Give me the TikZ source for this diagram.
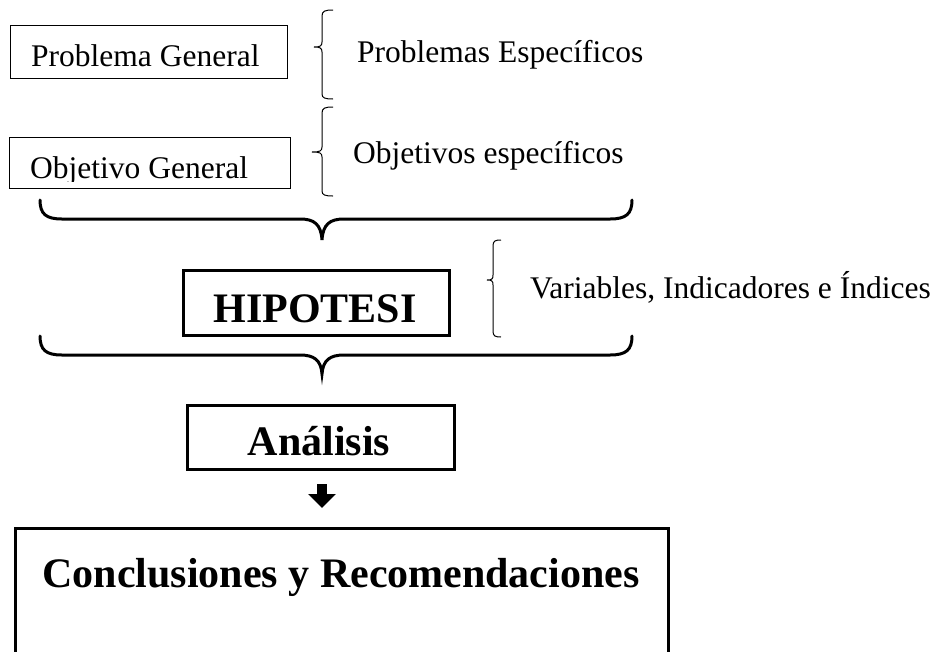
\documentclass[tikz,border=0pt]{standalone}
\usepackage{fontspec}
\setmainfont{Liberation Serif}
\usetikzlibrary{arrows.meta}
\begin{document}
\begin{tikzpicture}[x=1pt,y=-1pt,
  thinbox/.style={draw, line width=1pt, inner sep=0pt, anchor=north west},
  thickbox/.style={draw, line width=2.5pt, inner sep=0pt, anchor=north west},
  lbl/.style={font=\fontsize{31.5}{36}\selectfont, inner sep=0pt, anchor=base west},
  boldlbl/.style={font=\fontsize{42}{48}\selectfont\bfseries, inner sep=0pt, anchor=base},
  smallbrace/.style={line width=1pt},
  bigbrace/.style={line width=3pt, line cap=round}]
\clip (0,0) rectangle (944,651);
\fill[white] (0,0) rectangle (944,651);

% top boxes
\node[thinbox, minimum width=277pt, minimum height=53pt] (pg) at (10,25) {};
\node[lbl] (pgt) at (31,66) {Problema General};
\node[thinbox, minimum width=281pt, minimum height=51pt] (og) at (9,137) {};
\begin{scope}
\clip (9,137) rectangle (290,181);
\node[lbl] (ogt) at (30,178) {Objetivo General};
\end{scope}

% small braces
\draw[smallbrace] (333,10) .. controls (325,10) and (322,11) .. (322,16) -- (322,42)
  .. controls (322,46) and (320,47) .. (314,47) .. controls (320,47) and (322,48) .. (322,52)
  -- (322,94) .. controls (322,98) and (325,99) .. (333,99);
\node[lbl] (pe) at (357,62) {Problemas Específicos};

\draw[smallbrace] (333,107) .. controls (325,107) and (322,108) .. (322,113) -- (322,147)
  .. controls (322,151) and (320,152) .. (312,152) .. controls (320,152) and (322,153) .. (322,157)
  -- (322,191) .. controls (322,195) and (325,196) .. (333,196);
\node[lbl] (oe) at (353,163) {Objetivos específicos};

% big brace 1
\draw[bigbrace] (40,200) .. controls (40,214) and (46,219) .. (62,219) -- (300,219)
  .. controls (314,219) and (321,224) .. (322,240)
  .. controls (323,224) and (330,219) .. (344,219) -- (610,219)
  .. controls (626,219) and (632,214) .. (632,200);

% hipotesis
\node[thickbox, minimum width=266pt, minimum height=65pt] (hip) at (182,269) {};
\node[boldlbl] (hipt) at (315,322) {HIPOTESI};

\draw[smallbrace] (501,240) .. controls (495,240) and (493,241) .. (493,246) -- (493,275)
  .. controls (493,279) and (492,280) .. (487,280) .. controls (492,280) and (493,281) .. (493,285)
  -- (493,331) .. controls (493,336) and (495,337) .. (501,337);
\node[lbl] (vii) at (530,298) {Variables, Indicadores e Índices};

% big brace 2
\draw[bigbrace] (40,336) .. controls (40,350) and (46,355) .. (62,355) -- (300,355)
  .. controls (314,355) and (321,360) .. (322,374)
  .. controls (323,360) and (330,355) .. (344,355) -- (610,355)
  .. controls (626,355) and (632,350) .. (632,336);

% analisis
\node[thickbox, minimum width=267pt, minimum height=64pt] (an) at (186,404) {};
\node[boldlbl] (ant) at (319,455) {Análisis};

% arrow
\coordinate (a1) at (322,484);
\coordinate (a2) at (322,508);
\draw[line width=10pt, -{Triangle[width=27pt,length=14pt]}] (a1) -- (a2);

% conclusiones
\node[thickbox, minimum width=653pt, minimum height=160pt] (cr) at (14,527) {};
\node[boldlbl] (crt) at (341,587) {Conclusiones y Recomendaciones};
\end{tikzpicture}
\end{document}
